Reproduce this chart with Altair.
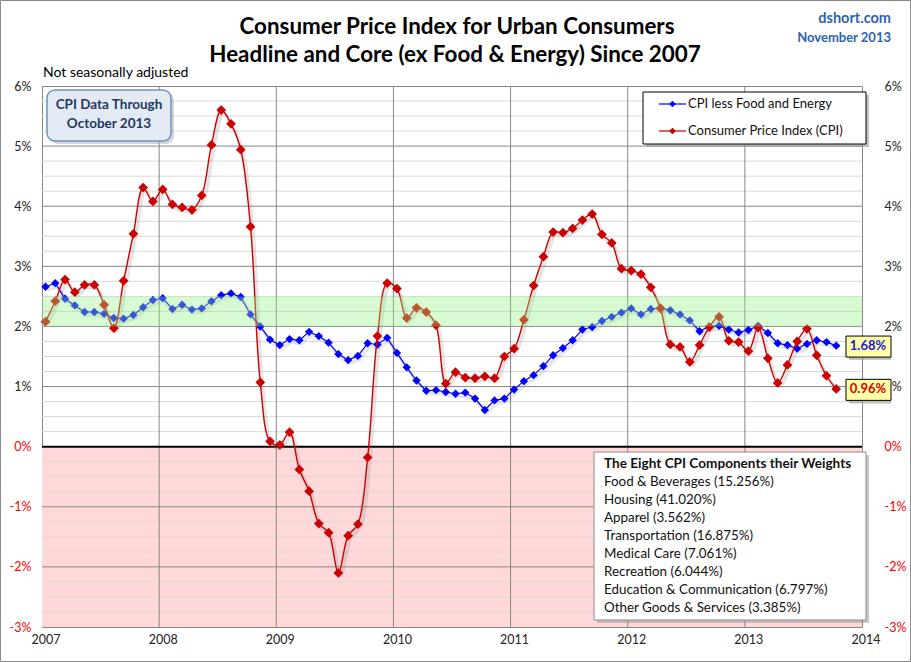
import altair as alt
import pandas as pd

# ---------------- data ----------------
start_year = 2007
cpi = [
    2.08, 2.42, 2.78, 2.57, 2.69, 2.69, 2.36, 1.97, 2.76, 3.54, 4.31, 4.08,
    4.28, 4.03, 3.98, 3.94, 4.18, 5.02, 5.60, 5.37, 4.94, 3.66, 1.07, 0.09,
    0.03, 0.24, -0.38, -0.74, -1.28, -1.43, -2.10, -1.48, -1.29, -0.18, 1.84, 2.72,
    2.63, 2.14, 2.31, 2.24, 2.02, 1.05, 1.24, 1.15, 1.14, 1.17, 1.14, 1.50,
    1.63, 2.11, 2.68, 3.16, 3.57, 3.56, 3.63, 3.77, 3.87, 3.53, 3.39, 2.96,
    2.93, 2.87, 2.65, 2.30, 1.70, 1.66, 1.41, 1.69, 1.99, 2.16, 1.76, 1.74,
    1.59, 1.98, 1.47, 1.06, 1.36, 1.75, 1.96, 1.52, 1.18, 0.96,
]
core = [
    2.66, 2.72, 2.46, 2.35, 2.24, 2.24, 2.21, 2.14, 2.13, 2.19, 2.32, 2.44,
    2.47, 2.29, 2.36, 2.28, 2.30, 2.42, 2.52, 2.55, 2.49, 2.20, 2.00, 1.78,
    1.69, 1.79, 1.77, 1.91, 1.84, 1.73, 1.54, 1.44, 1.51, 1.72, 1.70, 1.81,
    1.56, 1.32, 1.10, 0.93, 0.94, 0.91, 0.88, 0.90, 0.80, 0.61, 0.77, 0.80,
    0.95, 1.09, 1.19, 1.34, 1.52, 1.64, 1.77, 1.95, 1.99, 2.09, 2.16, 2.23,
    2.30, 2.20, 2.29, 2.31, 2.27, 2.20, 2.10, 1.92, 2.00, 2.01, 1.95, 1.90,
    1.94, 2.01, 1.89, 1.72, 1.69, 1.63, 1.71, 1.77, 1.74, 1.68,
]
year_ticks = [2007, 2008, 2009, 2010, 2011, 2012, 2013, 2014]
pct_ticks = [-3, -2, -1, 0, 1, 2, 3, 4, 5, 6]
band_lo, band_hi = 2.0, 2.5

series_core = "CPI less Food and Energy"
series_cpi = "Consumer Price Index (CPI)"
components = [
    "Food & Beverages (15.256%)",
    "Housing (41.020%)",
    "Apparel (3.562%)",
    "Transportation (16.875%)",
    "Medical Care (7.061%)",
    "Recreation (6.044%)",
    "Education & Communication (6.797%)",
    "Other Goods & Services (3.385%)",
]
title_lines = ["Consumer Price Index for Urban Consumers",
               "Headline and Core (ex Food & Energy) Since 2007"]

# month position: year + month/12 (points sit slightly after the month start)
t = [start_year + i / 12 + 0.03 for i in range(len(cpi))]
df_cpi = pd.DataFrame({"t": t, "v": cpi})
df_core = pd.DataFrame({"t": t, "v": core})
last = pd.DataFrame({
    "v": [core[-1], cpi[-1]],
    "label": [f"{core[-1]:.2f}%", f"{cpi[-1]:.2f}%"],
    "col": ["#1a1ad6", "#d40000"],
})

# ---------------- layout helpers ----------------
L, T = 42, 86          # plot-area origin in page pixels
W, H = 820, 541
FONT = "Lato"

def px(x):
    return x - L

def py(y):
    return y - T

xs = alt.Scale(domain=[2007, 2014], nice=False, zero=False)
ys = alt.Scale(domain=[-3, 6], nice=False, zero=False)

one = pd.DataFrame({"a": [0]})

def prect(x1, y1, x2, y2, **kw):
    return alt.Chart(one).mark_rect(**kw).encode(
        x=alt.value(px(x1)), x2=alt.value(px(x2)),
        y=alt.value(py(y1)), y2=alt.value(py(y2)))

def ptext(txt, x, y, **kw):
    return alt.Chart(pd.DataFrame({"s": [txt]})).mark_text(font=FONT, **kw).encode(
        x=alt.value(px(x)), y=alt.value(py(y)), text="s:N")

# ---------------- background & grid ----------------
border = prect(0.5, 0.5, 910.5, 661.5, fill="white", fillOpacity=0,
               stroke="#8a8a8a", strokeWidth=1)

pink = alt.Chart(one).mark_rect(color="#ffd9d9").encode(
    x=alt.X(datum=2007, type="quantitative", scale=xs, axis=None),
    x2=alt.X2(datum=2014),
    y=alt.Y(datum=0, type="quantitative", scale=ys, axis=None),
    y2=alt.Y2(datum=-3),
)

minor_vals = [v / 4 for v in range(-12, 25) if v % 4 != 0]
minor = alt.Chart(pd.DataFrame({"v": minor_vals})).mark_rule(
    color="#d9d9d9", strokeWidth=1).encode(
    y=alt.Y("v:Q", scale=ys, axis=alt.Axis(
        orient="right", values=pct_ticks, labelExpr="datum.value + '%'",
        ticks=False, domain=False, grid=False, labelPadding=22,
        labelFont=FONT, labelFontSize=12.5, labelAlign="left",
        labelColor=alt.condition("datum.value <= 0", alt.value("#ff0000"), alt.value("#222222")),
        title=None)))

major = alt.Chart(pd.DataFrame({"v": [-2, -1, 1, 2, 3, 4, 5]})).mark_rule(
    color="#878787", strokeWidth=1).encode(
    y=alt.Y("v:Q", scale=ys, axis=alt.Axis(
        orient="left", values=pct_ticks, labelExpr="datum.value + '%'",
        ticks=False, domain=False, grid=False, labelPadding=11,
        labelFont=FONT, labelFontSize=12.5,
        labelColor=alt.condition("datum.value <= 0", alt.value("#ff0000"), alt.value("#222222")),
        title=None)))

vlines = alt.Chart(pd.DataFrame({"x": year_ticks[1:-1]})).mark_rule(
    color="#878787", strokeWidth=1).encode(
    x=alt.X("x:Q", scale=xs, axis=None))

year_labels = alt.Chart(pd.DataFrame({"x": year_ticks})).mark_text(
    font=FONT, fontSize=12.5, color="#222222", align="center", baseline="middle", dx=4
).encode(
    x=alt.X("x:Q", scale=xs, axis=None),
    y=alt.value(py(640)),
    text=alt.Text("x:Q", format="d"))

zero = alt.Chart(pd.DataFrame({"v": [0]})).mark_rule(color="black", strokeWidth=2).encode(
    y=alt.Y("v:Q", scale=ys, axis=None))

# ---------------- series ----------------
def enc(c):
    return c.encode(x=alt.X("t:Q", scale=xs, axis=None),
                    y=alt.Y("v:Q", scale=ys, axis=None))

core_shadow = enc(alt.Chart(df_core).mark_line(color="#7a7a7a", strokeWidth=4,
                                                opacity=0.18, xOffset=2, yOffset=3))
cpi_shadow = enc(alt.Chart(df_cpi).mark_line(color="#7a7a7a", strokeWidth=4, opacity=0.2,
                                              interpolate="catmull-rom", xOffset=2, yOffset=3))
core_line = enc(alt.Chart(df_core).mark_line(color="#0000ff", strokeWidth=1.2))
core_pts = enc(alt.Chart(df_core).mark_point(shape="diamond", filled=True, size=70,
                                              color="#0000ff", opacity=1))
cpi_line = enc(alt.Chart(df_cpi).mark_line(color="#cc0000", strokeWidth=1.4,
                                            interpolate="catmull-rom"))
cpi_pts = enc(alt.Chart(df_cpi).mark_point(shape="diamond", filled=True, size=95,
                                            color="#cc0000", opacity=1))

green = alt.Chart(one).mark_rect(color="#94f186", opacity=0.37).encode(
    x=alt.X(datum=2007, type="quantitative", scale=xs, axis=None),
    x2=alt.X2(datum=2014),
    y=alt.Y(datum=band_lo, type="quantitative", scale=ys, axis=None),
    y2=alt.Y2(datum=band_hi),
)

# ---------------- end-value labels ----------------
val_base = alt.Chart(last).transform_calculate(lo="datum.v - 0.19", hi="datum.v + 0.16")
val_shadow = val_base.mark_rect(color="#9a9a9a", opacity=0.6, yOffset=3, xOffset=3).encode(
    x=alt.value(px(846)), x2=alt.value(px(891)),
    y=alt.Y("lo:Q", scale=ys, axis=None), y2="hi:Q")
val_box = val_base.mark_rect(fill="#ffffa8", stroke="black", strokeWidth=1).encode(
    x=alt.value(px(846)), x2=alt.value(px(891)),
    y=alt.Y("lo:Q", scale=ys, axis=None), y2="hi:Q")
val_txt = alt.Chart(last).mark_text(font=FONT, fontSize=13, fontWeight="bold",
                                    align="center", baseline="middle").encode(
    x=alt.value(px(868)), y=alt.Y("v:Q", scale=ys, axis=None),
    text="label:N", color=alt.Color("col:N", scale=None))

# ---------------- legend ----------------
legend_layers = [
    prect(646, 95, 869, 147, fill="#9a9a9a", opacity=0.6),
    prect(643, 92, 866, 144, fill="white", stroke="black", strokeWidth=1),
]
for yy, col, name in [(104, "#0000ff", series_core), (131, "#cc0000", series_cpi)]:
    legend_layers.append(alt.Chart(one).mark_rule(color=col, strokeWidth=1.2).encode(
        x=alt.value(px(659)), x2=alt.value(px(686)), y=alt.value(py(yy))))
    legend_layers.append(alt.Chart(one).mark_point(shape="diamond", filled=True, size=45,
                                                    color=col, opacity=1).encode(
        x=alt.value(px(672.5)), y=alt.value(py(yy))))
    legend_layers.append(ptext(name, 688, yy, fontSize=13, align="left",
                               baseline="middle", color="#111111"))

# ---------------- "CPI Data Through" box ----------------
cpi_box = [
    prect(50, 93, 174, 144, fill="#a0a0a0", opacity=0.45, cornerRadius=8),
    prect(47, 90, 171, 141, fill="#e4eaf3", stroke="#6d93c4", strokeWidth=1.5, cornerRadius=8),
    ptext("CPI Data Through", 109, 105, fontSize=13.5, fontWeight="bold",
          align="center", baseline="middle", color="#1f3864"),
    ptext("October 2013", 109, 124, fontSize=13.5, fontWeight="bold",
          align="center", baseline="middle", color="#1f3864"),
]

# ---------------- components box ----------------
comp_layers = [
    prect(597, 455, 869, 623, fill="#9a9a9a", opacity=0.55),
    prect(594, 452, 866, 620, fill="white", stroke="#8c8c8c", strokeWidth=1),
    ptext("The Eight CPI Components their Weights", 604, 464, fontSize=13.6,
          fontWeight="bold", align="left", baseline="middle", color="#111111"),
]
for i, c in enumerate(components):
    comp_layers.append(ptext(c, 604, 482.3 + 17.9 * i, fontSize=13.4, align="left",
                             baseline="middle", color="#111111"))

# ---------------- titles ----------------
titles = [
    ptext(title_lines[0], 457, 27, fontSize=22.4, fontWeight="bold", align="center",
          baseline="middle", color="black"),
    ptext(title_lines[1], 455, 55, fontSize=22.4, fontWeight="bold", align="center",
          baseline="middle", color="black"),
    ptext("dshort.com", 891, 19, fontSize=14.5, fontWeight="bold", align="right",
          baseline="middle", color="#2f63ad"),
    ptext("November 2013", 891, 38, fontSize=13, fontWeight="bold", align="right",
          baseline="middle", color="#2f63ad"),
    ptext("Not seasonally adjusted", 43, 73, fontSize=14, align="left",
          baseline="middle", color="black"),
]

chart = alt.layer(
    border, pink, minor, major, vlines, zero, year_labels,
    core_shadow, cpi_shadow,
    core_line, core_pts, cpi_line, cpi_pts, green,
    *legend_layers, *cpi_box, *comp_layers,
    val_shadow, val_box, val_txt, *titles,
).resolve_axis(y="independent").properties(
    width=W, height=H,
    padding={"left": L, "top": T, "right": 911 - L - W, "bottom": 662 - T - H},
    autosize=alt.AutoSizeParams(type="none"),
    background="white",
).configure_view(stroke="#878787", strokeWidth=1)

chart.save("out.html", embed_options={"renderer": "svg", "actions": False})
